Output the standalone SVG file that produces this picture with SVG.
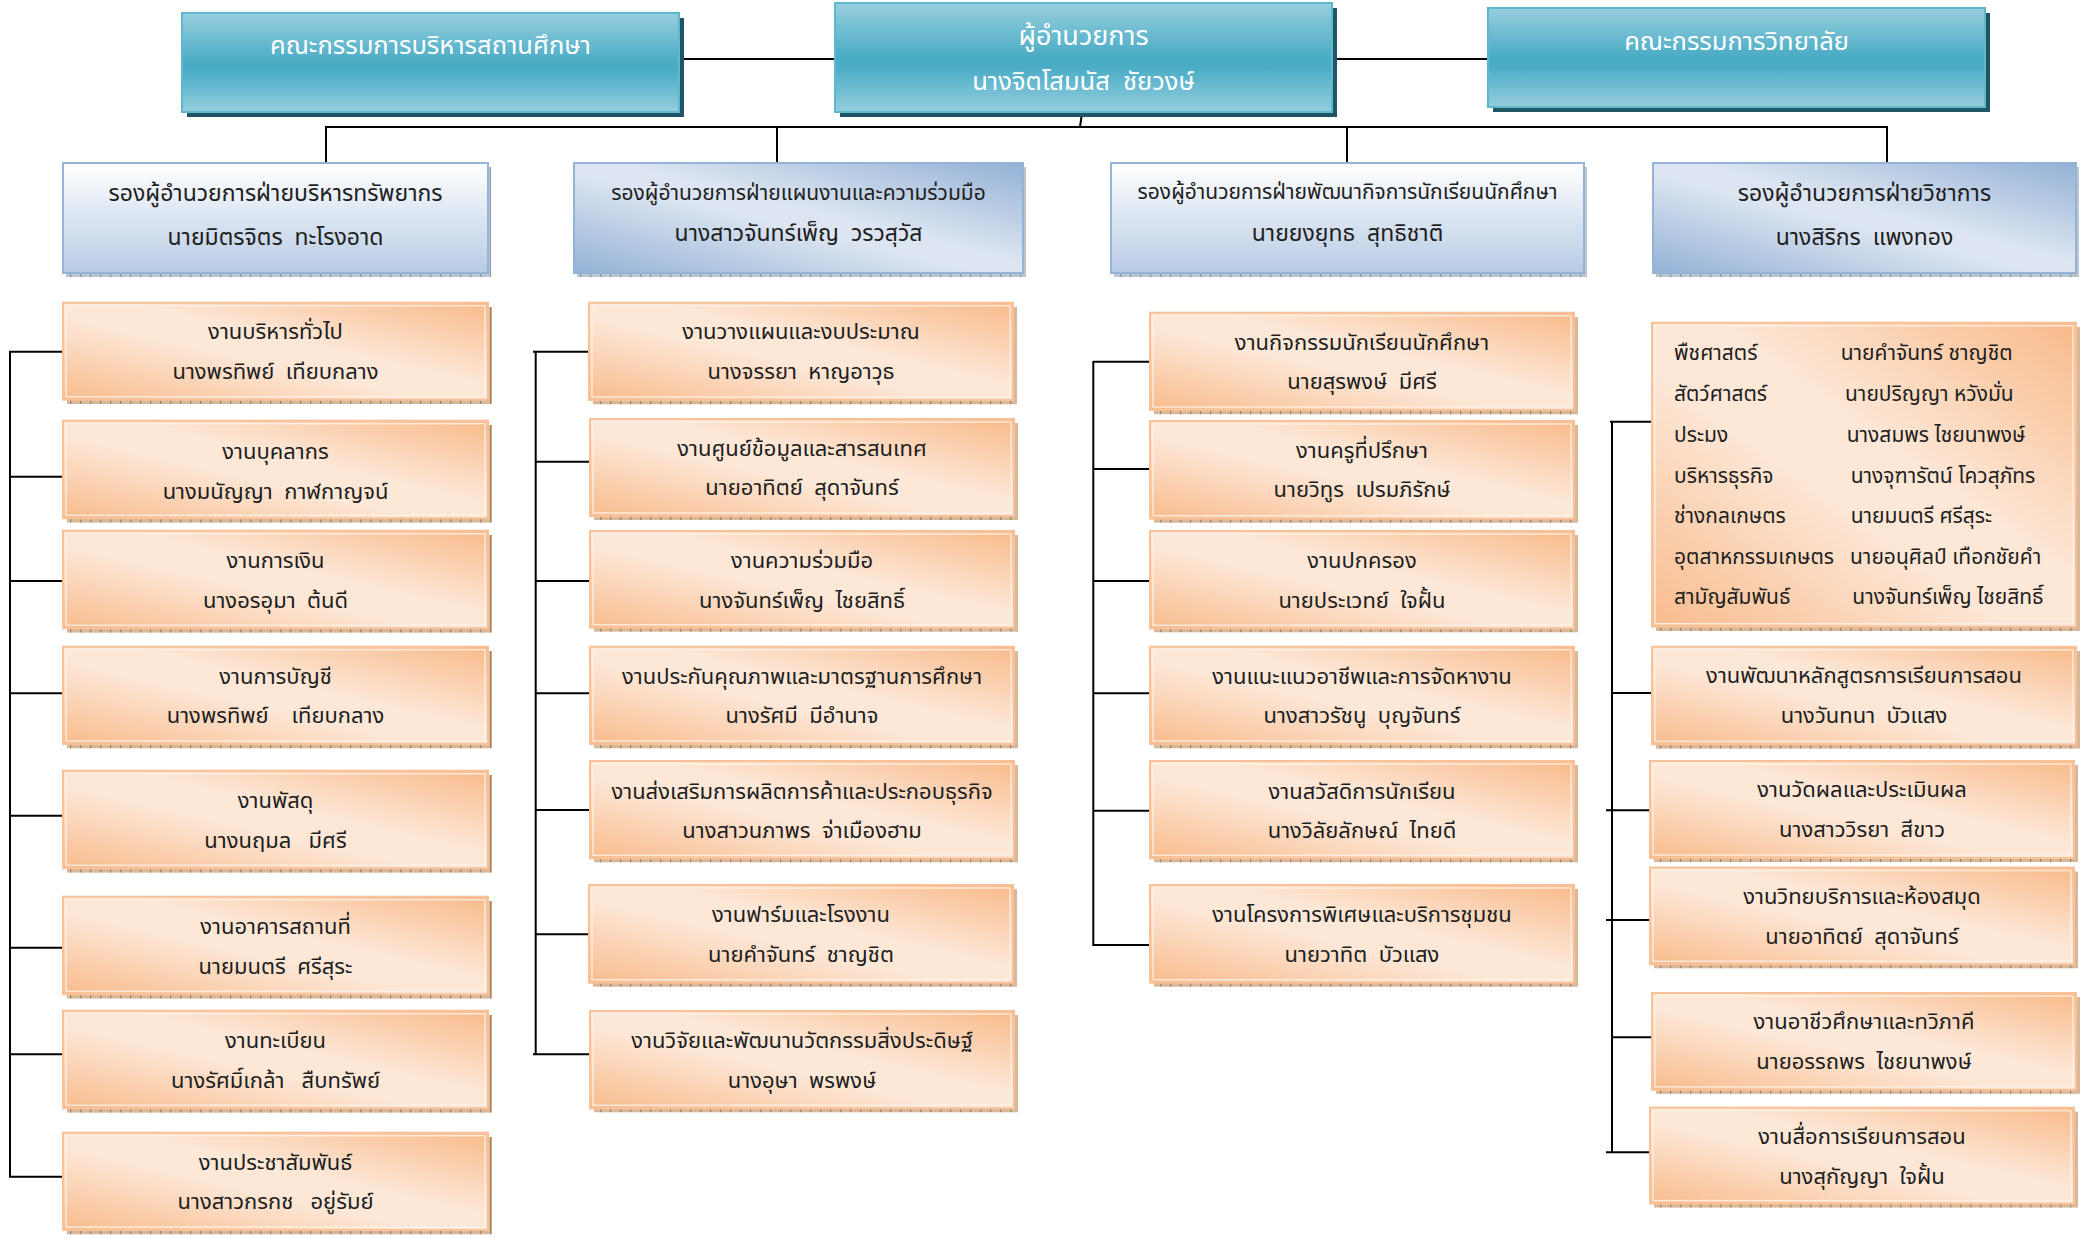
<svg xmlns="http://www.w3.org/2000/svg" width="2089" height="1239" viewBox="0 0 2089 1239">
<defs>
<linearGradient id="gTeal" x1="0" y1="0" x2="0" y2="1">
<stop offset="0" stop-color="#98CFDE"/><stop offset="0.5" stop-color="#4AABC5"/><stop offset="0.6" stop-color="#4CADC7"/><stop offset="1" stop-color="#96CEDD"/>
</linearGradient>
<linearGradient id="gBlueV" x1="0" y1="0" x2="0" y2="1">
<stop offset="0" stop-color="#FFFFFF"/><stop offset="0.35" stop-color="#E6EDF6"/><stop offset="1" stop-color="#B7CBE4"/>
</linearGradient>
<linearGradient id="gBlueD" x1="0" y1="1" x2="1" y2="0">
<stop offset="0" stop-color="#93B1D6"/><stop offset="0.45" stop-color="#DCE5F1"/><stop offset="0.55" stop-color="#DCE5F1"/><stop offset="1" stop-color="#93B1D6"/>
</linearGradient>
<linearGradient id="gOr" x1="0" y1="1" x2="1" y2="0">
<stop offset="0" stop-color="#F8BB8C"/><stop offset="0.42" stop-color="#FDE7D6"/><stop offset="0.58" stop-color="#FDE7D6"/><stop offset="1" stop-color="#F8BA8A"/>
</linearGradient>
<pattern id="pOr" width="10" height="6" patternUnits="userSpaceOnUse"><rect width="10" height="6" fill="#D8B89B"/><rect width="1.3" height="6" fill="#A98262"/></pattern>
<pattern id="pBl" width="10" height="6" patternUnits="userSpaceOnUse"><rect width="10" height="6" fill="#BCC5D1"/><rect width="1.3" height="6" fill="#8A97A8"/></pattern>
</defs>
<style>
.tb{fill:url(#gTeal);stroke:#5FB8CE;stroke-width:2}
.tsh{fill:#1E5665}
.vb1{fill:url(#gBlueV);stroke:#95B3D7;stroke-width:2}
.vb2{fill:url(#gBlueD);stroke:#95B3D7;stroke-width:2}
.vsh{fill:url(#pBl)}
.ob{fill:url(#gOr);stroke:#F9C197;stroke-width:2}
.oin{fill:none;stroke:#FFF3EA;stroke-width:1.5;opacity:0.8}
.osh{fill:url(#pOr)}
.t{font-family:"Noto Sans Thai","Noto Sans",sans-serif;font-size:22px;fill:#1E1E1E;text-anchor:middle;white-space:pre}
.tv{font-family:"Noto Sans Thai","Noto Sans",sans-serif;font-size:23px;fill:#1E1E1E;text-anchor:middle;white-space:pre}
.tvs{font-family:"Noto Sans Thai","Noto Sans",sans-serif;font-size:21px;fill:#1E1E1E;text-anchor:middle;white-space:pre}
.tl{font-family:"Noto Sans Thai","Noto Sans",sans-serif;font-size:21px;fill:#1E1E1E;text-anchor:start;white-space:pre}
.tw{font-family:"Noto Sans Thai","Noto Sans",sans-serif;font-size:25.5px;fill:#FFFFFF;text-anchor:middle;white-space:pre}
.c{stroke:#000;stroke-width:2;fill:none}
</style>
<rect width="2089" height="1239" fill="#FFFFFF"/>

<g id="connectors">
<path class="c" d="M679 59H835M1333 59H1488"/>
<path class="c" d="M1082 113L1080 127"/>
<path class="c" d="M326 127H1887M326 126V163M777 126V163M1347 126V163M1887 126V163"/>
<path class="c" d="M10 351V1177M9 351.7H63M10 476.7H63M10 581H63M10 693.3H63M10 815.7H63M10 947.7H63M10 1054.3H63M9 1176.7H63"/>
<path class="c" d="M535.7 351V1055M533 351.7H589M535.7 461.7H589M535.7 581H589M535.7 693.3H589M535.7 810H589M535.7 934.3H589M533 1054.3H589"/>
<path class="c" d="M1093.3 361V946M1093.3 361.7H1150M1093.3 469H1150M1093.3 581H1150M1093.3 693.3H1150M1093.3 810.7H1150M1093.3 945H1150"/>
<path class="c" d="M1612 421V1153M1610 421.7H1652M1612 693H1652M1606 810.3H1650M1606 920H1650M1612 1037.3H1652M1606 1152.2H1650"/>
</g>

<g id="board-admin">
<rect class="tsh" x="187" y="18" width="497" height="99"/>
<rect class="tb" x="182" y="13" width="497" height="99"/>
<text class="tw" x="430.5" y="54">คณะกรรมการบริหารสถานศึกษา</text>
</g>
<g id="director">
<rect class="tsh" x="840" y="8" width="497" height="109"/>
<rect class="tb" x="835" y="3" width="497" height="109"/>
<text class="tw" x="1083.5" y="45" style="font-size:27px">ผู้อำนวยการ</text>
<text class="tw" x="1083.5" y="90">นางจิตโสมนัส  ชัยวงษ์</text>
</g>
<g id="board-college">
<rect class="tsh" x="1493" y="13" width="497" height="99"/>
<rect class="tb" x="1488" y="8" width="497" height="99"/>
<text class="tw" x="1736.5" y="50">คณะกรรมการวิทยาลัย</text>
</g>

<g id="vp-resource">
<rect class="vsh" x="66" y="167" width="425" height="110"/>
<rect class="vb1" x="63" y="163" width="425" height="110"/>
<text class="tv" x="275.5" y="201">รองผู้อำนวยการฝ่ายบริหารทรัพยากร</text>
<text class="tv" x="275.5" y="245">นายมิตรจิตร  ทะโรงอาด</text>
</g>
<g id="vp-plan">
<rect class="vsh" x="577" y="167" width="449" height="110"/>
<rect class="vb2" x="574" y="163" width="449" height="110"/>
<text class="tvs" x="798.5" y="200">รองผู้อำนวยการฝ่ายแผนงานและความร่วมมือ</text>
<text class="tv" x="798.5" y="241">นางสาวจันทร์เพ็ญ  วรวสุวัส</text>
</g>
<g id="vp-student">
<rect class="vsh" x="1114" y="167" width="473" height="110"/>
<rect class="vb1" x="1111" y="163" width="473" height="110"/>
<text class="tvs" x="1347.5" y="199">รองผู้อำนวยการฝ่ายพัฒนากิจการนักเรียนนักศึกษา</text>
<text class="tv" x="1347.5" y="241">นายยงยุทธ  สุทธิชาติ</text>
</g>
<g id="vp-academic">
<rect class="vsh" x="1656" y="167" width="423" height="110"/>
<rect class="vb2" x="1653" y="163" width="423" height="110"/>
<text class="tv" x="1864.5" y="201">รองผู้อำนวยการฝ่ายวิชาการ</text>
<text class="tv" x="1864.5" y="245">นางสิริกร  แพงทอง</text>
</g>

<g id="a1"><rect class="osh" x="67" y="307" width="425" height="97"/><rect class="ob" x="63" y="302.7" width="425" height="97"/><rect class="oin" x="66" y="305.7" width="419" height="91"/><text class="t" x="275.5" y="339">งานบริหารทั่วไป</text><text class="t" x="275.5" y="379">นางพรทิพย์  เทียบกลาง</text></g>
<g id="a2"><rect class="osh" x="67" y="425" width="425" height="97.6"/><rect class="ob" x="63" y="420.7" width="425" height="97.6"/><rect class="oin" x="66" y="423.7" width="419" height="91.6"/><text class="t" x="275.5" y="459">งานบุคลากร</text><text class="t" x="275.5" y="499">นางมนัญญา  กาฬกาญจน์</text></g>
<g id="a3"><rect class="osh" x="67" y="535" width="425" height="97.6"/><rect class="ob" x="63" y="530.7" width="425" height="97.6"/><rect class="oin" x="66" y="533.7" width="419" height="91.6"/><text class="t" x="275.5" y="568">งานการเงิน</text><text class="t" x="275.5" y="608">นางอรอุมา  ต้นดี</text></g>
<g id="a4"><rect class="osh" x="67" y="651" width="425" height="97.3"/><rect class="ob" x="63" y="646.7" width="425" height="97.3"/><rect class="oin" x="66" y="649.7" width="419" height="91.3"/><text class="t" x="275.5" y="684">งานการบัญชี</text><text class="t" x="275.5" y="723">นางพรทิพย์    เทียบกลาง</text></g>
<g id="a5"><rect class="osh" x="67" y="775" width="425" height="97.6"/><rect class="ob" x="63" y="770.7" width="425" height="97.6"/><rect class="oin" x="66" y="773.7" width="419" height="91.6"/><text class="t" x="275.5" y="808">งานพัสดุ</text><text class="t" x="275.5" y="848">นางนฤมล   มีศรี</text></g>
<g id="a6"><rect class="osh" x="67" y="901" width="425" height="97.6"/><rect class="ob" x="63" y="896.7" width="425" height="97.6"/><rect class="oin" x="66" y="899.7" width="419" height="91.6"/><text class="t" x="275.5" y="934">งานอาคารสถานที่</text><text class="t" x="275.5" y="974">นายมนตรี  ศรีสุระ</text></g>
<g id="a7"><rect class="osh" x="67" y="1015" width="425" height="97.6"/><rect class="ob" x="63" y="1010.7" width="425" height="97.6"/><rect class="oin" x="66" y="1013.7" width="419" height="91.6"/><text class="t" x="275.5" y="1048">งานทะเบียน</text><text class="t" x="275.5" y="1088">นางรัศมิ์เกล้า   สืบทรัพย์</text></g>
<g id="a8"><rect class="osh" x="67" y="1137" width="425" height="97.3"/><rect class="ob" x="63" y="1132.7" width="425" height="97.3"/><rect class="oin" x="66" y="1135.7" width="419" height="91.3"/><text class="t" x="275.5" y="1170">งานประชาสัมพันธ์</text><text class="t" x="275.5" y="1209">นางสาวกรกช   อยู่รัมย์</text></g>

<g id="b1"><rect class="osh" x="593" y="307" width="424" height="97.3"/><rect class="ob" x="589" y="302.7" width="424" height="97.3"/><rect class="oin" x="592" y="305.7" width="418" height="91.3"/><text class="t" x="801" y="339">งานวางแผนและงบประมาณ</text><text class="t" x="801" y="379">นางจรรยา  หาญอาวุธ</text></g>
<g id="b2"><rect class="osh" x="594" y="423" width="424" height="97"/><rect class="ob" x="590" y="419" width="424" height="97"/><rect class="oin" x="593" y="422" width="418" height="91"/><text class="t" x="802" y="456">งานศูนย์ข้อมูลและสารสนเทศ</text><text class="t" x="802" y="495">นายอาทิตย์  สุดาจันทร์</text></g>
<g id="b3"><rect class="osh" x="594" y="535" width="424" height="96.7"/><rect class="ob" x="590" y="531" width="424" height="96.7"/><rect class="oin" x="593" y="534" width="418" height="90.7"/><text class="t" x="802" y="568">งานความร่วมมือ</text><text class="t" x="802" y="608">นางจันทร์เพ็ญ  ไชยสิทธิ์</text></g>
<g id="b4"><rect class="osh" x="594" y="651" width="424" height="97.3"/><rect class="ob" x="590" y="646.7" width="424" height="97.3"/><rect class="oin" x="593" y="649.7" width="418" height="91.3"/><text class="t" x="802" y="684">งานประกันคุณภาพและมาตรฐานการศึกษา</text><text class="t" x="802" y="723">นางรัศมี  มีอำนาจ</text></g>
<g id="b5"><rect class="osh" x="594" y="765" width="424" height="97.3"/><rect class="ob" x="590" y="761" width="424" height="97.3"/><rect class="oin" x="593" y="764" width="418" height="91.3"/><text class="t" x="802" y="799">งานส่งเสริมการผลิตการค้าและประกอบธุรกิจ</text><text class="t" x="802" y="838">นางสาวนภาพร  จ่าเมืองฮาม</text></g>
<g id="b6"><rect class="osh" x="593" y="889" width="424" height="97.7"/><rect class="ob" x="589" y="885" width="424" height="97.7"/><rect class="oin" x="592" y="888" width="418" height="91.7"/><text class="t" x="801" y="922">งานฟาร์มและโรงงาน</text><text class="t" x="801" y="962">นายคำจันทร์  ชาญชิต</text></g>
<g id="b7"><rect class="osh" x="594" y="1015" width="424" height="97.3"/><rect class="ob" x="590" y="1011" width="424" height="97.3"/><rect class="oin" x="593" y="1014" width="418" height="91.3"/><text class="t" x="802" y="1048">งานวิจัยและพัฒนานวัตกรรมสิ่งประดิษฐ์</text><text class="t" x="802" y="1088">นางอุษา  พรพงษ์</text></g>

<g id="c1"><rect class="osh" x="1154" y="317" width="424" height="97.3"/><rect class="ob" x="1150" y="312.7" width="424" height="97.3"/><rect class="oin" x="1153" y="315.7" width="418" height="91.3"/><text class="t" x="1362" y="350">งานกิจกรรมนักเรียนนักศึกษา</text><text class="t" x="1362" y="389">นายสุรพงษ์  มีศรี</text></g>
<g id="c2"><rect class="osh" x="1154" y="425" width="424" height="97.7"/><rect class="ob" x="1150" y="421" width="424" height="97.7"/><rect class="oin" x="1153" y="424" width="418" height="91.7"/><text class="t" x="1362" y="458">งานครูที่ปรึกษา</text><text class="t" x="1362" y="497">นายวิทูร  เปรมภิรักษ์</text></g>
<g id="c3"><rect class="osh" x="1154" y="535" width="424" height="97.3"/><rect class="ob" x="1150" y="531" width="424" height="97.3"/><rect class="oin" x="1153" y="534" width="418" height="91.3"/><text class="t" x="1362" y="568">งานปกครอง</text><text class="t" x="1362" y="608">นายประเวทย์  ใจฝั้น</text></g>
<g id="c4"><rect class="osh" x="1154" y="651" width="424" height="97.3"/><rect class="ob" x="1150" y="646.7" width="424" height="97.3"/><rect class="oin" x="1153" y="649.7" width="418" height="91.3"/><text class="t" x="1362" y="684">งานแนะแนวอาชีพและการจัดหางาน</text><text class="t" x="1362" y="723">นางสาวรัชนู  บุญจันทร์</text></g>
<g id="c5"><rect class="osh" x="1154" y="765" width="424" height="97.3"/><rect class="ob" x="1150" y="761" width="424" height="97.3"/><rect class="oin" x="1153" y="764" width="418" height="91.3"/><text class="t" x="1362" y="799">งานสวัสดิการนักเรียน</text><text class="t" x="1362" y="838">นางวิลัยลักษณ์  ไทยดี</text></g>
<g id="c6"><rect class="osh" x="1154" y="889" width="424" height="97.7"/><rect class="ob" x="1150" y="885" width="424" height="97.7"/><rect class="oin" x="1153" y="888" width="418" height="91.7"/><text class="t" x="1362" y="922">งานโครงการพิเศษและบริการชุมชน</text><text class="t" x="1362" y="962">นายวาทิต  บัวแสง</text></g>

<g id="d1"><rect class="osh" x="1656" y="327" width="424" height="304"/><rect class="ob" x="1652" y="322.7" width="424" height="304"/><rect class="oin" x="1655" y="325.7" width="418" height="298"/>
<text class="tl" x="1674" y="360">พืชศาสตร์</text><text class="tl" x="1840.7" y="360">นายคำจันทร์ ชาญชิต</text>
<text class="tl" x="1674" y="401">สัตว์ศาสตร์</text><text class="tl" x="1845" y="401">นายปริญญา หวังมั่น</text>
<text class="tl" x="1674" y="442">ประมง</text><text class="tl" x="1846.7" y="442">นางสมพร ไชยนาพงษ์</text>
<text class="tl" x="1674" y="483">บริหารธุรกิจ</text><text class="tl" x="1850.7" y="483">นางจุฑารัตน์ โควสุภัทร</text>
<text class="tl" x="1674" y="523">ช่างกลเกษตร</text><text class="tl" x="1850.7" y="523">นายมนตรี ศรีสุระ</text>
<text class="tl" x="1674" y="564">อุตสาหกรรมเกษตร</text><text class="tl" x="1850" y="564">นายอนุศิลป์ เทือกชัยคำ</text>
<text class="tl" x="1674" y="604">สามัญสัมพันธ์</text><text class="tl" x="1852.3" y="604">นางจันทร์เพ็ญ ไชยสิทธิ์</text>
</g>
<g id="d2"><rect class="osh" x="1656" y="651" width="424" height="97.6"/><rect class="ob" x="1652" y="646.8" width="424" height="97.6"/><rect class="oin" x="1655" y="649.8" width="418" height="91.6"/><text class="t" x="1864" y="683">งานพัฒนาหลักสูตรการเรียนการสอน</text><text class="t" x="1864" y="723">นางวันทนา  บัวแสง</text></g>
<g id="d3"><rect class="osh" x="1654" y="765" width="424" height="97"/><rect class="ob" x="1650" y="761" width="424" height="97"/><rect class="oin" x="1653" y="764" width="418" height="91"/><text class="t" x="1862" y="797">งานวัดผลและประเมินผล</text><text class="t" x="1862" y="837">นางสาววิรยา  สีขาว</text></g>
<g id="d4"><rect class="osh" x="1654" y="871.5" width="424" height="96.8"/><rect class="ob" x="1650" y="867.5" width="424" height="96.8"/><rect class="oin" x="1653" y="870.5" width="418" height="90.8"/><text class="t" x="1862" y="904">งานวิทยบริการและห้องสมุด</text><text class="t" x="1862" y="944">นายอาทิตย์  สุดาจันทร์</text></g>
<g id="d5"><rect class="osh" x="1656" y="997" width="424" height="96.8"/><rect class="ob" x="1652" y="993" width="424" height="96.8"/><rect class="oin" x="1655" y="996" width="418" height="90.8"/><text class="t" x="1864" y="1029">งานอาชีวศึกษาและทวิภาคี</text><text class="t" x="1864" y="1069">นายอรรถพร  ไชยนาพงษ์</text></g>
<g id="d6"><rect class="osh" x="1654" y="1111.6" width="424" height="96"/><rect class="ob" x="1650" y="1107.6" width="424" height="96"/><rect class="oin" x="1653" y="1110.6" width="418" height="90"/><text class="t" x="1862" y="1144">งานสื่อการเรียนการสอน</text><text class="t" x="1862" y="1184">นางสุกัญญา  ใจฝั้น</text></g>
</svg>
